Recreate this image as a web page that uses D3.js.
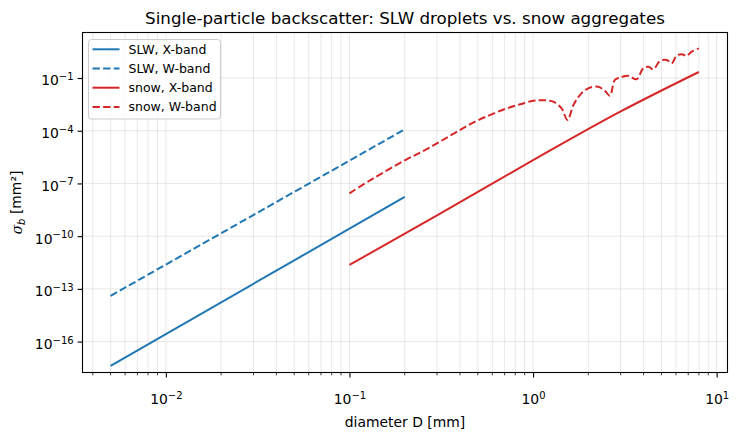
<!DOCTYPE html>
<html>
<head>
<meta charset="utf-8">
<script src="https://cdn.jsdelivr.net/npm/d3@7"></script>
<style>
  body { margin: 0; background: #fff; }
  svg { font-family: "DejaVu Sans", sans-serif; }
</style>
</head>
<body>
<div id="chart"></div>
<script>
// values (D in mm, sigma_b in mm^2)
const slwD = [0.005, 0.2];
const slwX = [4.2e-18, 1.7e-8];
const slwW = [4.0e-14, 1.2e-4];

const snowXD = [0.1, 0.3, 1.0, 3.0, 8.0];
const snowX = [2.3e-12, 1.5e-9, 2.1e-6, 1.25e-3, 0.22];

const snowWD = [0.1, 0.135, 0.205, 0.258, 0.311, 0.384, 0.472, 0.582, 0.718, 0.851, 1.0, 1.09, 1.19, 1.29,
  1.43, 1.54, 1.66, 1.80, 2.0, 2.26, 2.47, 2.62, 2.79, 2.97, 3.30, 3.66, 3.98, 4.25, 4.52,
  4.91, 5.35, 5.69, 6.05, 6.44, 6.87, 7.31, 8.0];
const snowW = [2.75e-8, 1.95e-7, 2.34e-6, 7.9e-6, 2.4e-5, 8.7e-5, 2.9e-4, 7.8e-4, 1.86e-3, 3.2e-3, 5.1e-3, 5.4e-3, 5.3e-3, 4.5e-3,
  1.86e-3, 4.1e-4, 2.9e-3, 1.07e-2, 2.6e-2, 3.2e-2, 1.8e-2, 9.8e-3, 7.8e-2, 0.105, 0.135, 0.085, 0.355, 0.44, 0.31,
  0.93, 1.05, 0.69, 1.86, 2.24, 1.86, 3.16, 4.9];

const series = [
  { name: "SLW, X-band", d: slwD, v: slwX, color: "#1f77b4", dash: null, curve: d3.curveLinear },
  { name: "SLW, W-band", d: slwD, v: slwW, color: "#1f77b4", dash: "7.4,3.2", curve: d3.curveLinear },
  { name: "snow, X-band", d: snowXD, v: snowX, color: "#d62728", dash: null, curve: d3.curveMonotoneX },
  { name: "snow, W-band", d: snowWD, v: snowW, color: "#d62728", dash: "7.4,3.2", curve: d3.curveCatmullRom.alpha(0.5) }
];

const xMajor = [1e-2, 1e-1, 1e0, 1e1];
const yMajor = [1e-16, 1e-13, 1e-10, 1e-7, 1e-4, 1e-1];

const width = 738, height = 440;
const margin = { top: 32.5, right: 10.5, bottom: 67.5, left: 82.5 };

const svg = d3.select("#chart").append("svg")
  .attr("width", width)
  .attr("height", height);

const x = d3.scaleLog()
  .domain([Math.pow(10, -2.454), Math.pow(10, 1.059)])
  .range([margin.left, width - margin.right]);

const y = d3.scaleLog()
  .domain([Math.pow(10, -17.76), Math.pow(10, 1.59)])
  .range([height - margin.bottom, margin.top]);

const [xMin, xMax] = x.domain();
const xMinor = [];
for (let e = -3; e <= 1; e++) {
  for (let k = 2; k <= 9; k++) {
    const v = k * Math.pow(10, e);
    if (v > xMin && v < xMax) xMinor.push(v);
  }
}

// grid
const grid = svg.append("g").attr("stroke", "#b0b0b0").attr("stroke-opacity", 0.35).attr("stroke-width", 0.8);
grid.selectAll(".gx").data(xMajor.concat(xMinor)).join("line")
  .attr("x1", d => x(d)).attr("x2", d => x(d))
  .attr("y1", margin.top).attr("y2", height - margin.bottom);
grid.selectAll(".gy").data(yMajor).join("line")
  .attr("y1", d => y(d)).attr("y2", d => y(d))
  .attr("x1", margin.left).attr("x2", width - margin.right);

// lines
svg.append("g").selectAll("path")
  .data(series)
  .join("path")
  .attr("fill", "none")
  .attr("stroke", d => d.color)
  .attr("stroke-width", 2)
  .attr("stroke-dasharray", d => d.dash)
  .attr("d", d => d3.line().curve(d.curve).x(p => x(p[0])).y(p => y(p[1]))(d.d.map((dd, i) => [dd, d.v[i]])));

// axes
const supFmt = (sel, exp) => {
  sel.text("");
  sel.append("tspan").text("10");
  sel.append("tspan").attr("dy", "-0.55em").attr("font-size", "0.72em").text(exp);
};
const expText = d => {
  const e = Math.round(Math.log10(d));
  return (e < 0 ? "\u2212" : "") + Math.abs(e);
};

const xAxis = d3.axisBottom(x).tickValues(xMajor).tickSize(4.9).tickPadding(4);
const gx = svg.append("g")
  .attr("transform", `translate(0,${height - margin.bottom})`)
  .call(xAxis);
gx.select(".domain").remove();
gx.selectAll(".tick line").attr("stroke", "#000").attr("stroke-width", 1.1);
gx.selectAll(".tick text")
  .attr("font-size", 13.9).attr("fill", "#000").attr("font-family", "DejaVu Sans")
  .attr("dy", "1.65em")
  .each(function(d) { supFmt(d3.select(this), expText(d)); });

svg.append("g").selectAll("line").data(xMinor).join("line")
  .attr("x1", d => x(d)).attr("x2", d => x(d))
  .attr("y1", height - margin.bottom).attr("y2", height - margin.bottom + 2.8)
  .attr("stroke", "#000").attr("stroke-width", 0.8);

const yAxis = d3.axisLeft(y).tickValues(yMajor).tickSize(4.9).tickPadding(4);
const gy = svg.append("g")
  .attr("transform", `translate(${margin.left},0)`)
  .call(yAxis);
gy.select(".domain").remove();
gy.selectAll(".tick line").attr("stroke", "#000").attr("stroke-width", 1.1);
gy.selectAll(".tick text")
  .attr("font-size", 13.9).attr("fill", "#000").attr("font-family", "DejaVu Sans")
  .attr("dy", "0.5em")
  .each(function(d) { supFmt(d3.select(this), expText(d)); });

// frame
svg.append("rect")
  .attr("x", margin.left).attr("y", margin.top)
  .attr("width", width - margin.left - margin.right)
  .attr("height", height - margin.top - margin.bottom)
  .attr("fill", "none").attr("stroke", "#000").attr("stroke-width", 1.1);

// labels
svg.append("text")
  .attr("x", (margin.left + width - margin.right) / 2).attr("y", 24)
  .attr("text-anchor", "middle").attr("font-size", 16.7)
  .text("Single-particle backscatter: SLW droplets vs. snow aggregates");

svg.append("text")
  .attr("x", (margin.left + width - margin.right) / 2).attr("y", 427)
  .attr("text-anchor", "middle").attr("font-size", 13.9)
  .text("diameter D [mm]");

const yl = svg.append("text")
  .attr("transform", `translate(22,${(margin.top + height - margin.bottom) / 2}) rotate(-90)`)
  .attr("text-anchor", "middle").attr("font-size", 13.9);
yl.append("tspan").attr("font-style", "italic").attr("font-family", "DejaVu Serif").text("\u03c3");
yl.append("tspan").attr("font-style", "italic").attr("font-size", "0.72em").attr("dy", "0.3em").text("b");
yl.append("tspan").attr("dy", "-0.3em").text(" [mm\u00b2]");

// legend
const lg = svg.append("g").attr("transform", "translate(88.5,39.5)");
lg.append("rect")
  .attr("width", 132).attr("height", 79.5).attr("rx", 3)
  .attr("fill", "#fff").attr("fill-opacity", 0.8)
  .attr("stroke", "#ccc").attr("stroke-width", 1);
const rows = lg.selectAll(".row").data(series).join("g")
  .attr("transform", (d, i) => `translate(0,${9.8 + i * 19.2})`);
rows.append("line")
  .attr("x1", 4).attr("x2", 31)
  .attr("stroke", d => d.color).attr("stroke-width", 2)
  .attr("stroke-dasharray", d => d.dash);
rows.append("text")
  .attr("x", 40).attr("dy", "0.35em").attr("font-size", 12.5)
  .text(d => d.name);
</script>
</body>
</html>
